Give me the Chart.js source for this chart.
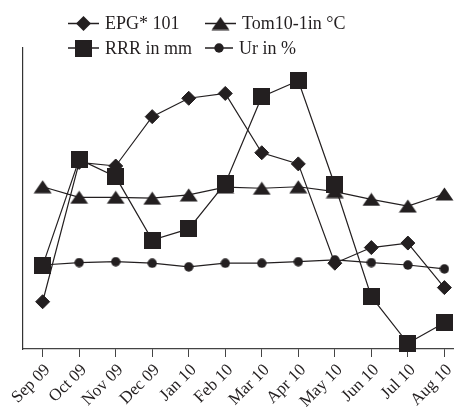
<!DOCTYPE html>
<html>
<head>
<meta charset="utf-8">
<script src="https://cdn.jsdelivr.net/npm/chart.js@4.4.0/dist/chart.umd.min.js"></script>
<style>
  html, body { margin: 0; padding: 0; background: #fff; }
  canvas { display: block; }
</style>
</head>
<body>
<canvas id="chart" width="461" height="407"></canvas>
<script>
  // months on the x axis
  const months = ['Sep 09', 'Oct 09', 'Nov 09', 'Dec 09', 'Jan 10', 'Feb 10',
                  'Mar 10', 'Apr 10', 'May 10', 'Jun 10', 'Jul 10', 'Aug 10']

  // values (no y scale shown, relative 0-100)
  const epg = [15.7, 62.0, 60.8, 77.2, 83.3, 84.9, 65.2, 61.5, 28.5, 33.7, 35.2, 20.4]
  const tom = [53.9, 50.4, 50.4, 50.1, 51.2, 53.8, 53.4, 53.9, 52.3, 49.7, 47.5, 51.5]
  const rrr = [27.7, 63.0, 57.2, 36.2, 39.9, 55.0, 83.8, 89.1, 54.5, 17.4, 1.9, 8.7]
  const ur  = [27.9, 28.7, 29.0, 28.5, 27.3, 28.5, 28.5, 29.0, 29.6, 28.7, 27.9, 26.6]

  const ink = '#231f20'
  const serif = '"Liberation Serif", "Times New Roman", serif'

  // marker images for triangle / square / circle (diamond uses rectRot)
  function makeMarker(type) {
    let c = document.createElement('canvas')
    let g
    if (type === 'triangle') {
      c.width = 19; c.height = 14
      g = c.getContext('2d')
      g.beginPath()
      g.moveTo(9.5, 0.5); g.lineTo(18.5, 13.5); g.lineTo(0.5, 13.5)
      g.closePath()
    } else if (type === 'square') {
      c.width = 17; c.height = 17
      g = c.getContext('2d')
      g.beginPath()
      g.rect(0, 0, 17, 17)
    } else {
      c.width = 10; c.height = 10
      g = c.getContext('2d')
      g.beginPath()
      g.arc(5, 5, 4.7, 0, Math.PI * 2)
    }
    g.fillStyle = ink
    g.fill()
    return c
  }

  const triangle = makeMarker('triangle')
  const square = makeMarker('square')
  const circle = makeMarker('circle')

  const toPoints = arr => arr.map((v, i) => ({ x: i, y: v }))

  // legend drawn by hand: line with marker in the middle, two rows
  const legendItems = [
    { text: 'EPG* 101',      img: null,     x0: 68,  x1: 99,  y: 23.5 },
    { text: 'Tom10-1in °C',  img: triangle, x0: 205, x1: 236, y: 23.5 },
    { text: 'RRR in mm',     img: square,   x0: 68,  x1: 99,  y: 48 },
    { text: 'Ur in %',       img: circle,   x0: 205, x1: 233, y: 48 }
  ]

  const legendPlugin = {
    id: 'handLegend',
    afterDraw(chart) {
      const ctx = chart.ctx
      ctx.save()
      ctx.strokeStyle = ink
      ctx.lineWidth = 1.5
      ctx.fillStyle = ink
      ctx.font = '18px ' + serif
      ctx.textBaseline = 'middle'
      legendItems.forEach(item => {
        ctx.beginPath()
        ctx.moveTo(item.x0, item.y)
        ctx.lineTo(item.x1, item.y)
        ctx.stroke()
        let mx = (item.x0 + item.x1) / 2
        if (item.img) {
          ctx.drawImage(item.img, mx - item.img.width / 2, item.y - item.img.height / 2)
        } else {
          ctx.beginPath()
          ctx.moveTo(mx, item.y - 7.5)
          ctx.lineTo(mx + 7.5, item.y)
          ctx.lineTo(mx, item.y + 7.5)
          ctx.lineTo(mx - 7.5, item.y)
          ctx.closePath()
          ctx.fill()
        }
        ctx.fillText(item.text, item.x1 + 6, item.y + 1)
      })
      ctx.restore()
    }
  }

  const lineStyle = {
    borderColor: ink,
    borderWidth: 1.2,
    backgroundColor: ink,
    pointBackgroundColor: ink,
    pointBorderColor: ink,
    pointBorderWidth: 1,
    fill: false,
    tension: 0,
    clip: false
  }

  new Chart(document.getElementById('chart'), {
    type: 'line',
    data: {
      datasets: [
        { ...lineStyle, label: 'RRR in mm', data: toPoints(rrr), pointStyle: square },
        { ...lineStyle, label: 'EPG* 101', data: toPoints(epg), pointStyle: 'rectRot', pointRadius: 7 },
        { ...lineStyle, label: 'Tom10-1in °C', data: toPoints(tom), pointStyle: triangle },
        { ...lineStyle, label: 'Ur in %', data: toPoints(ur), pointStyle: circle }
      ]
    },
    options: {
      responsive: false,
      animation: false,
      events: [],
      layout: { padding: { top: 48, left: 23, right: 0, bottom: 0 } },
      plugins: {
        legend: { display: false },
        tooltip: { enabled: false }
      },
      scales: {
        x: {
          type: 'linear',
          min: -0.538,
          max: 11.236,
          afterBuildTicks: s => { s.ticks = months.map((m, i) => ({ value: i })) },
          afterFit: s => { s.height = 58; s.paddingLeft = 0; s.paddingRight = 0 },
          grid: {
            display: true,
            drawOnChartArea: false,
            drawTicks: true,
            tickLength: 8,
            tickColor: '#444',
            tickWidth: 1
          },
          border: { display: true, color: '#444', width: 1.2 },
          ticks: {
            callback: v => months[v],
            minRotation: 45,
            maxRotation: 45,
            autoSkip: false,
            padding: 3,
            labelOffset: 5,
            color: ink,
            font: { family: serif, size: 17 }
          }
        },
        y: {
          min: 0,
          max: 100,
          afterFit: s => { s.width = 0 },
          grid: { display: false },
          border: { display: true, color: '#333', width: 1.2 },
          ticks: { display: false }
        }
      }
    },
    plugins: [legendPlugin]
  })
</script>
</body>
</html>
